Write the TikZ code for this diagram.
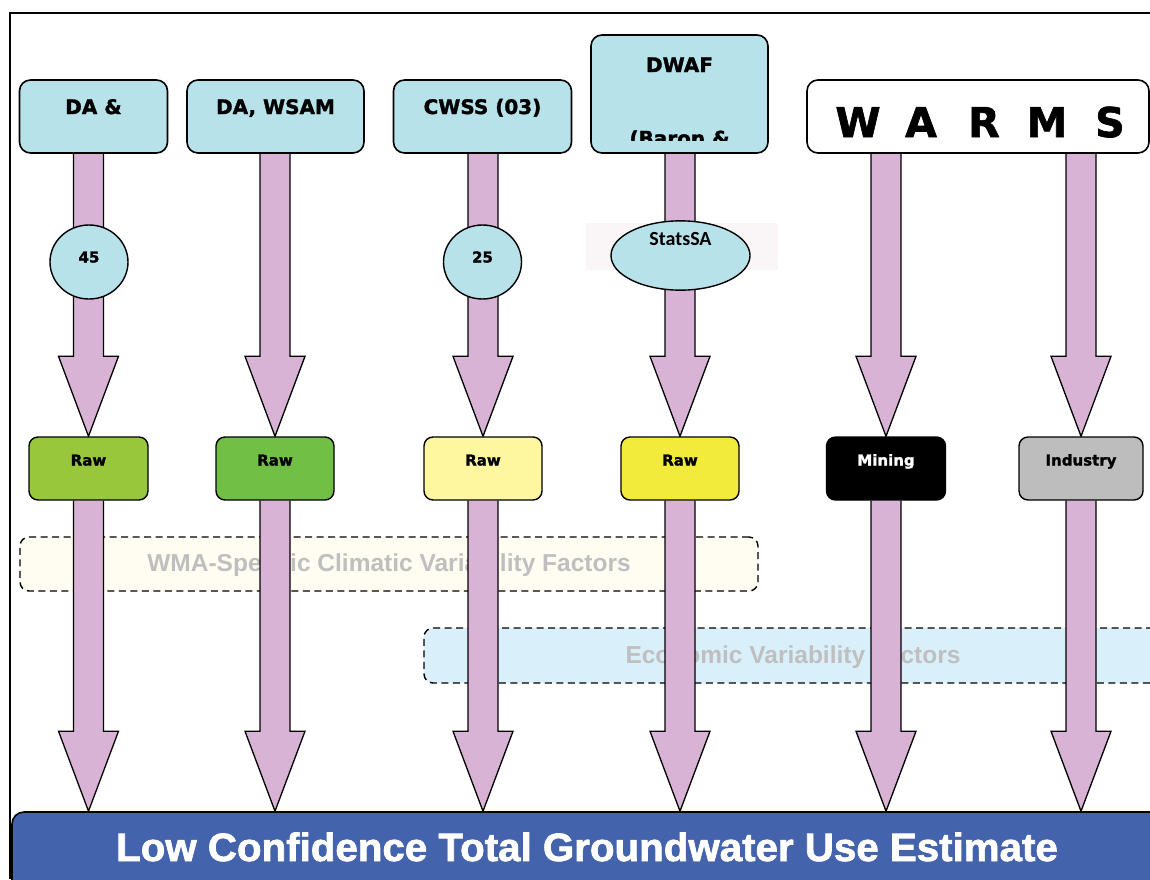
\documentclass[tikz,border=0pt]{standalone}
\usepackage{fontspec}
\newfontfamily\dv{DejaVu Sans}[BoldFeatures={FakeBold=1.6}]
\newfontfamily\lib{Liberation Sans}[BoldFeatures={FakeBold=1.8,FakeStretch=1.02}]
\newfontfamily\libf{Liberation Sans}
\newfontfamily\carl{Carlito}
\usetikzlibrary{shapes.geometric,calc}
\pgfdeclarelayer{back}
\pgfdeclarelayer{mid}
\pgfsetlayers{back,mid,main}

\definecolor{srcblue}{HTML}{B7E2EA}
\definecolor{pipe}{HTML}{D8B3D5}
\definecolor{rawA}{HTML}{99C73C}
\definecolor{rawB}{HTML}{71BF45}
\definecolor{rawC}{HTML}{FEF7A0}
\definecolor{rawD}{HTML}{F2EB3B}
\definecolor{indgray}{HTML}{BDBDBD}
\definecolor{barblue}{HTML}{4463AD}
\definecolor{climfill}{HTML}{FFFDF1}
\definecolor{econfill}{HTML}{D9F0FA}
\definecolor{factorgray}{HTML}{BFBFBF}
\definecolor{haze}{HTML}{FAF5F6}

\tikzset{
  src/.style={draw, line width=1.6pt, rounded corners=11pt, fill=srcblue, inner sep=0pt,
    font=\dv\bfseries\fontsize{20pt}{24pt}\selectfont,
    text height=34pt, text depth=39pt, minimum height=73pt},
  usebox/.style={draw, line width=1.4pt, rounded corners=9pt, inner sep=0pt,
    minimum height=63pt, text height=28.5pt, text depth=34.5pt,
    font=\dv\bfseries\fontsize{15pt}{18pt}\selectfont},
  fat/.style={fill=pipe, draw=black, line width=1.3pt, line join=miter},
  factor/.style={draw, dash pattern=on 7pt off 4.5pt, line width=1.4pt, rounded corners=9pt,
    inner sep=0pt, text=factorgray, font=\libf\bfseries\fontsize{24.5pt}{28pt}\selectfont},
  count/.style={ellipse, draw, line width=1.4pt, fill=srcblue, minimum width=78pt,
    minimum height=74pt, inner sep=0pt, text height=11pt, text depth=10pt,
    font=\dv\bfseries\fontsize{15pt}{18pt}\selectfont}
}

% broad block arrow: x taken from #1, top edge at the y of #2, tip at the y of #3
\newcommand\fatarrow[3]{%
  \path[fat] let \p1=(#1), \p2=(#2), \p3=(#3) in
    (\x1-15pt,\y2) -- (\x1-15pt,\y3+80pt) -- (\x1-30pt,\y3+80pt) -- (\x1,\y3)
    -- (\x1+30pt,\y3+80pt) -- (\x1+15pt,\y3+80pt) -- (\x1+15pt,\y2);}

\begin{document}
\begin{tikzpicture}[x=1pt,y=-1pt]
\useasboundingbox (0,0) rectangle (1150,879);

% sources
\node[src, minimum width=148pt] (s1) at (93.5,116.5) {DA \&};
\node[src, minimum width=177pt] (s2) at (275.5,116.5) {DA, WSAM};
\node[src, minimum width=178pt] (s3) at (482.5,116.5) {CWSS (03)};
\node[src, minimum width=177pt, minimum height=118pt, text height=37pt, text depth=81pt] (s4) at (679.5,94) {DWAF};
\begin{scope}
  \clip (591,35) rectangle (768,140.5);
  \node[font=\dv\bfseries\fontsize{20pt}{24pt}\selectfont, anchor=base, inner sep=0pt] (s4b) at (679.5,145.5) {(Baron \&};
\end{scope}
\node[src, fill=white, minimum width=342pt, text height=57pt, text depth=16pt,
      font=\dv\bfseries\fontsize{41pt}{48pt}\selectfont] (warms) at (978,116.5)
  {\hspace*{12pt}\makebox[63pt]{W}\makebox[63pt]{A}\makebox[63pt]{R}\makebox[63pt]{M}\makebox[63pt]{S}};

% sample counts
\node[count] (c1) at (89,262) {45};
\node[count] (c2) at (482.5,262) {25};
\fill[haze] (586,223) rectangle (778,270);
\node[ellipse, draw, line width=1.4pt, fill=srcblue, minimum width=139pt, minimum height=67pt,
      inner sep=0pt, text height=14pt, text depth=35pt,
      font=\carl\bfseries\fontsize{20pt}{24pt}\selectfont] (stats) at (680.5,255.5) {StatsSA};

% use categories
\node[usebox, fill=rawA, minimum width=119pt] (r1) at (88.5,468.5) {Raw};
\node[usebox, fill=rawB, minimum width=118pt] (r2) at (275,468.5) {Raw};
\node[usebox, fill=rawC, minimum width=118pt] (r3) at (483,468.5) {Raw};
\node[usebox, fill=rawD, minimum width=118pt] (r4) at (680,468.5) {Raw};
\node[usebox, fill=black, text=white, minimum width=119pt] (mining) at (886,468.5) {Mining};
\node[usebox, fill=indgray, minimum width=124pt] (industry) at (1081,468.5) {Industry};

% total
\node[draw, line width=1.6pt, fill=barblue, rounded corners=12pt, minimum width=1150pt,
      minimum height=100pt, inner sep=0pt, text=white, text height=49pt, text depth=51pt,
      font=\lib\bfseries\fontsize{39.5pt}{46pt}\selectfont] (bar) at (587,862)
  {Low Confidence Total Groundwater Use Estimate};

\begin{pgfonlayer}{back}
  \fill[white] (0,0) rectangle (1150,879);
  \draw[line width=2pt] (10,879) -- (10,13) -- (1150,13);
  \node[factor, fill=climfill, minimum width=738pt, minimum height=54pt,
        text height=34.5pt, text depth=19.5pt] (clim) at (389,564)
    {WMA-Specific Climatic Variability Factors};
  \node[factor, fill=econfill, minimum width=738pt, minimum height=55pt,
        text height=35.5pt, text depth=19.5pt] (econ) at (793,655.5)
    {Economic Variability Factors};
\end{pgfonlayer}

\begin{pgfonlayer}{mid}
  \fatarrow{r1.north}{s1.south}{r1.north}
  \fatarrow{r2.north}{s2.south}{r2.north}
  \fatarrow{r3.north}{s3.south}{r3.north}
  \fatarrow{r4.north}{s4.south}{r4.north}
  \fatarrow{mining.north}{warms.south}{mining.north}
  \fatarrow{industry.north}{warms.south}{industry.north}
  \fatarrow{r1.south}{r1.south}{bar.north}
  \fatarrow{r2.south}{r2.south}{bar.north}
  \fatarrow{r3.south}{r3.south}{bar.north}
  \fatarrow{r4.south}{r4.south}{bar.north}
  \fatarrow{mining.south}{mining.south}{bar.north}
  \fatarrow{industry.south}{industry.south}{bar.north}
\end{pgfonlayer}
\end{tikzpicture}
\end{document}
